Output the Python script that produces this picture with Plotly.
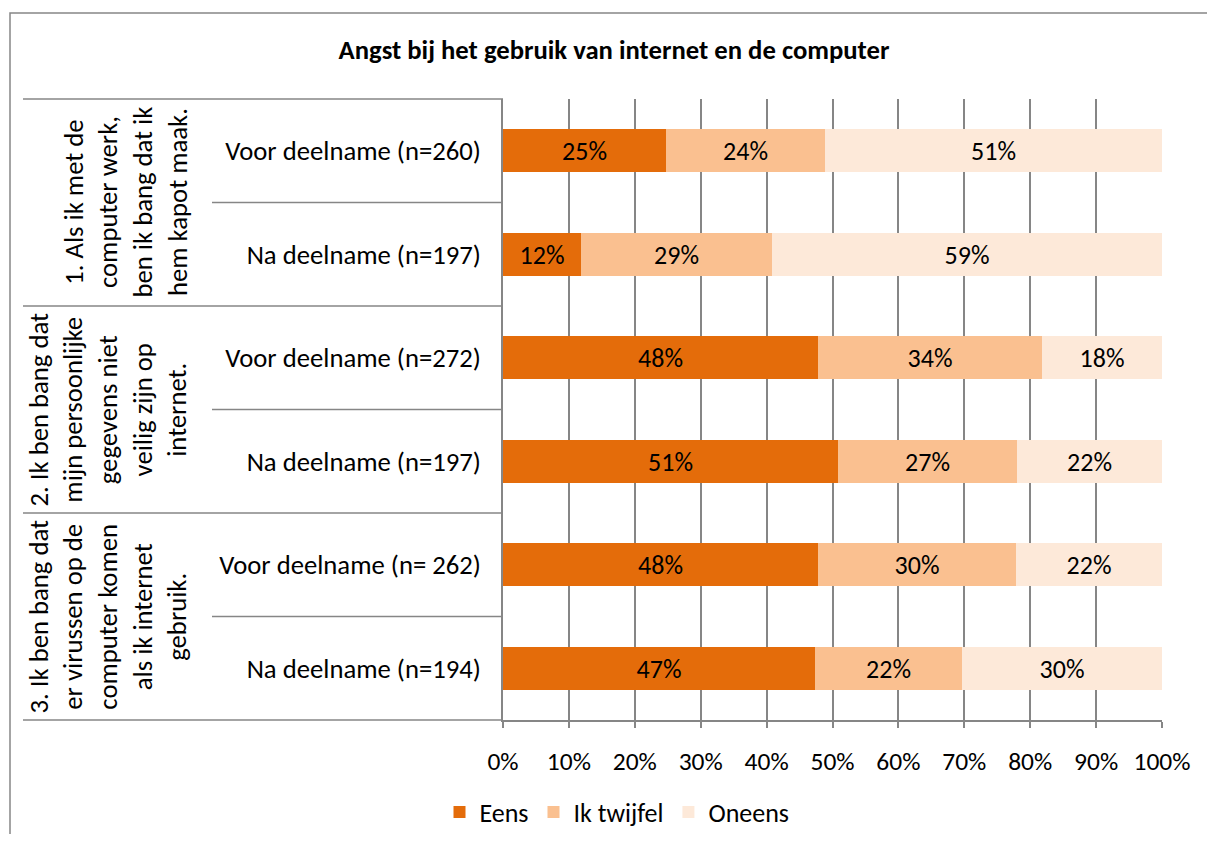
import plotly.graph_objects as go

title = "Angst bij het gebruik van internet en de computer"
row_labels = ["Voor deelname (n=260)", "Na deelname (n=197)",
              "Voor deelname (n=272)", "Na deelname (n=197)",
              "Voor deelname (n= 262)", "Na deelname (n=194)"]
group_labels = ["1. Als ik met de<br>computer werk,<br>ben ik bang dat ik<br>hem kapot maak.",
                "2. Ik ben bang dat<br>mijn persoonlijke<br>gegevens niet<br>veilig zijn op<br>internet.",
                "3. Ik ben bang dat<br>er virussen op de<br>computer komen<br>als ik internet<br>gebruik."]
series_names = ["Eens", "Ik twijfel", "Oneens"]
eens = [24.7, 11.9, 47.8, 50.8, 47.8, 47.3]
twijfel = [24.1, 28.9, 34.0, 27.2, 30.0, 22.4]
oneens = [51.2, 59.2, 18.2, 22.0, 22.2, 30.3]
x_ticks = [0, 10, 20, 30, 40, 50, 60, 70, 80, 90, 100]

colors = ["#E46C0A", "#FAC090", "#FDE9D9"]
FONT = "Carlito, Lato, sans-serif"
GRAY = "#868686"

OFF = 8                      # page body margin
SW, SH = 1215, 842           # screen size
W, H = SW - 2 * OFF, SH - 2 * OFF
L, R, T, B = 503, 1162, 99, 720  # plot area in screen pixels


def px_x(px):
    return (px - L) / (R - L)


def px_y(py):
    return (B - py) / (B - T)


ys = list(range(len(row_labels)))
fig = go.Figure()
for name, vals, col in zip(series_names, [eens, twijfel, oneens], colors):
    fig.add_trace(go.Bar(
        y=ys, x=vals, name=name, orientation="h", width=0.42,
        marker=dict(color=col, line=dict(width=0)),
        text=[f"{round(v)}%" for v in vals], textposition="inside",
        insidetextanchor="middle", textangle=0,
        textfont=dict(family=FONT, size=26, color="black"),
    ))

shapes = []
# chart border
shapes.append(dict(type="rect", xref="paper", yref="paper",
                   x0=px_x(10), x1=px_x(SW + 20), y0=px_y(SH + 20), y1=px_y(13),
                   line=dict(color=GRAY, width=1.5), fillcolor="rgba(0,0,0,0)", layer="below"))
n = len(row_labels)
row_h = 1.0 / n
for k in range(n + 1):
    y = 1 - k * row_h
    x0 = px_x(23) if k % 2 == 0 else px_x(212)
    shapes.append(dict(type="line", xref="paper", yref="paper", x0=x0, x1=0, y0=y, y1=y,
                       line=dict(color=GRAY, width=1.5)))

annotations = []
group_centers = [126, 108, 108]
for g, txt in enumerate(group_labels):
    annotations.append(dict(text=txt, xref="paper", yref="paper",
                            x=px_x(group_centers[g]), y=1 - (2 * g + 1) * row_h,
                            textangle=-90, showarrow=False, align="center",
                            xanchor="center", yanchor="middle",
                            font=dict(family=FONT, size=26.7, color="black")))

fig.update_layout(
    width=W, height=H, barmode="stack", bargap=0,
    margin=dict(l=L - OFF, r=W - (R - OFF), t=T - OFF, b=H - (B - OFF), pad=0,
                autoexpand=False),
    paper_bgcolor="white", plot_bgcolor="white",
    title=dict(text=f"<b>{title}</b>", x=(614 - OFF) / W, xanchor="center",
               y=1 - (50 - OFF) / H, yanchor="middle",
               font=dict(family=FONT, size=26.7, color="black")),
    xaxis=dict(range=[0, 100], tickvals=x_ticks, ticktext=[f"{t}%" for t in x_ticks],
               showgrid=True, gridcolor=GRAY, gridwidth=1.5, zeroline=False,
               showline=True, linecolor=GRAY, linewidth=1.5, automargin=False,
               ticks="outside", ticklen=6, tickcolor=GRAY, tickwidth=1.5,
               ticklabelstandoff=12,
               tickfont=dict(family=FONT, size=25.5, color="black")),
    yaxis=dict(range=[n - 0.5, -0.5], tickvals=ys, ticktext=row_labels,
               showgrid=False, zeroline=False, showline=True, linecolor=GRAY, linewidth=1.5,
               automargin=False, ticks="", ticklabelstandoff=15,
               tickfont=dict(family=FONT, size=26.7, color="black")),
    legend=dict(orientation="h", xref="container", x=(617 - OFF) / W, xanchor="center",
                yref="container", y=1 - (812 - OFF) / H, yanchor="middle",
                font=dict(family=FONT, size=26, color="black"), itemwidth=30,
                traceorder="normal"),
    shapes=shapes, annotations=annotations,
    showlegend=True,
)

fig.write_html("out.html")
